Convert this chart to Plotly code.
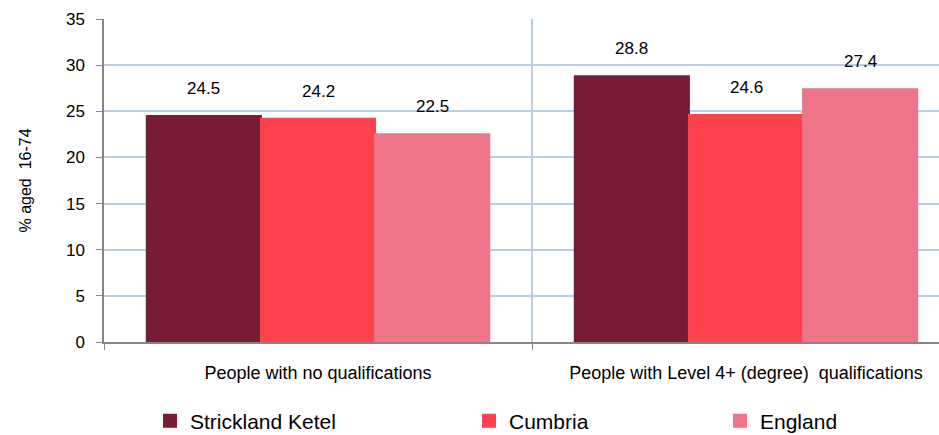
import plotly.graph_objects as go

categories = ["People with no qualifications", "People with Level 4+ (degree)  qualifications"]
series_names = ["Strickland Ketel", "Cumbria", "England"]
strickland = [24.5, 28.8]
cumbria = [24.2, 24.6]
england = [22.5, 27.4]
y_ticks = [0, 5, 10, 15, 20, 25, 30, 35]

colors = ["#771C34", "#FE424D", "#EE7489"]
FONT = "Liberation Sans, Arial, sans-serif"

fig = go.Figure()
all_vals = [strickland, cumbria, england]
legend_ids = ["legend", "legend2", "legend3"]
for name, vals, col, lg in zip(series_names, all_vals, colors, legend_ids):
    fig.add_trace(go.Bar(
        name=name, x=categories, y=vals,
        marker=dict(color=col, line=dict(width=2, color=col)),
        legend=lg, hoverinfo="skip",
    ))

bargap = 0.2
bw = (1 - bargap) / 3
for i, vals in enumerate(all_vals):
    for j, v in enumerate(vals):
        fig.add_annotation(
            x=j + (i - 1) * bw, y=v, xref="x", yref="y",
            text=f"{v:.1f}", showarrow=False, yanchor="bottom", yshift=16,
            font=dict(family=FONT, size=17, color="#000000"),
        )

legend_common = dict(orientation="h", yanchor="middle", y=-(421 - 342) / 323, xanchor="left",
                      font=dict(family=FONT, size=21, color="#000000"),
                      bgcolor="rgba(0,0,0,0)", itemwidth=30, tracegroupgap=0)
fig.update_layout(
    width=939, height=435,
    margin=dict(l=104, r=0, t=19, b=93, autoexpand=False),
    paper_bgcolor="white", plot_bgcolor="white",
    barmode="group", bargap=bargap, bargroupgap=0,
    font=dict(family=FONT, size=17, color="#000000"),
    legend=dict(x=(150 - 104) / 835, **legend_common),
    legend2=dict(x=(469 - 104) / 835, **legend_common),
    legend3=dict(x=(720 - 104) / 835, **legend_common),
    xaxis=dict(
        type="category", range=[-0.5, -0.5 + 835 / 428],
        tickson="boundaries", ticks="outside", ticklen=6, tickcolor="#868686",
        showgrid=True, gridcolor="#B9CDE5", gridwidth=1.5,
        showline=True, linecolor="#868686", linewidth=1.5,
        tickfont=dict(family=FONT, size=18, color="#000000"),
        ticklabelstandoff=14,
    ),
    yaxis=dict(
        range=[0, 35], tickvals=y_ticks, ticks="outside", ticklen=6, tickcolor="#868686",
        showgrid=True, gridcolor="#B9CDE5", gridwidth=1.5,
        showline=True, linecolor="#868686", linewidth=1.5,
        tickfont=dict(family=FONT, size=17, color="#000000"),
        ticklabelstandoff=8,
        title=dict(text="% aged  16-74", font=dict(family=FONT, size=16, color="#000000"), standoff=30),
        zeroline=False,
    ),
    showlegend=True,
)

fig.write_html("out.html", config={"displayModeBar": False},
               post_script="document.body.style.margin='0';")
